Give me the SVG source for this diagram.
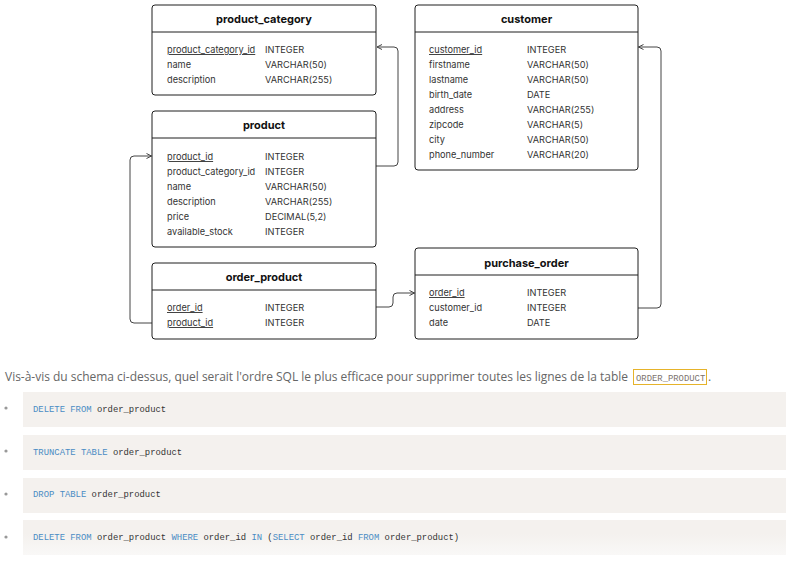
<svg xmlns="http://www.w3.org/2000/svg" width="790" height="567" viewBox="0 0 790 567">
<defs>
<style>
.box{fill:#fff;stroke:#1e1e1e;stroke-width:1}
.div{stroke:#1e1e1e;stroke-width:1}
.title{font-family:Inter,"Liberation Sans",sans-serif;font-size:11px;font-weight:bold;fill:#111;text-anchor:middle}
.row{font-family:Inter,"Liberation Sans",sans-serif;font-size:9.2px;fill:#333}
.pk{text-decoration:underline}
.conn{fill:none;stroke:#444;stroke-width:1}
.q{font-family:"Open Sans","Noto Sans",sans-serif;font-size:12px;fill:#666}
.code{font-family:"Liberation Mono","DejaVu Sans Mono",monospace;font-size:8.9px;fill:#333}
.kw{fill:#4a8cc4}
.item{fill:#f4f1ee}
.bul{fill:#999}
</style>
<marker id="arr" markerWidth="6" markerHeight="6" refX="5.5" refY="3" orient="auto" markerUnits="userSpaceOnUse">
<path d="M0.5,0.5 L5.5,3 L0.5,5.5" fill="none" stroke="#444" stroke-width="1"/>
</marker>
<linearGradient id="fade" x1="0" y1="0" x2="0" y2="1">
<stop offset="0" stop-color="#f4f1ee"/>
<stop offset="0.4" stop-color="#f4f1ee"/>
<stop offset="1" stop-color="#f9f8f7"/>
</linearGradient>
</defs>
<rect width="790" height="567" fill="#fff"/>

<g id="connectors">
<path class="conn" d="M376,166 H394 Q398,166 398,162 V51 Q398,47 394,47 H377" marker-end="url(#arr)"/>
<path class="conn" d="M152,323 H134 Q130,323 130,319 V160 Q130,156 134,156 H151.5" marker-end="url(#arr)"/>
<path class="conn" d="M376,307 H389 Q393,307 393,303 V297 Q393,293 397,293 H414.5" marker-end="url(#arr)"/>
<path class="conn" d="M638,308 H657 Q661,308 661,304 V51 Q661,47 657,47 H638.5" marker-end="url(#arr)"/>
</g>

<g id="product_category">
<rect class="box" x="152" y="5" width="224" height="90" rx="3"/>
<line class="div" x1="152" y1="32" x2="376" y2="32"/>
<text class="title" x="264" y="23">product_category</text>
<text class="row pk" x="167" y="53">product_category_id</text><text class="row" x="265" y="53">INTEGER</text>
<text class="row" x="167" y="68">name</text><text class="row" x="265" y="68">VARCHAR(50)</text>
<text class="row" x="167" y="83">description</text><text class="row" x="265" y="83">VARCHAR(255)</text>
</g>

<g id="customer">
<rect class="box" x="415" y="5" width="223" height="165" rx="3"/>
<line class="div" x1="415" y1="32" x2="638" y2="32"/>
<text class="title" x="526.5" y="23">customer</text>
<text class="row pk" x="429" y="53">customer_id</text><text class="row" x="527" y="53">INTEGER</text>
<text class="row" x="429" y="68">firstname</text><text class="row" x="527" y="68">VARCHAR(50)</text>
<text class="row" x="429" y="83">lastname</text><text class="row" x="527" y="83">VARCHAR(50)</text>
<text class="row" x="429" y="98">birth_date</text><text class="row" x="527" y="98">DATE</text>
<text class="row" x="429" y="113">address</text><text class="row" x="527" y="113">VARCHAR(255)</text>
<text class="row" x="429" y="128">zipcode</text><text class="row" x="527" y="128">VARCHAR(5)</text>
<text class="row" x="429" y="143">city</text><text class="row" x="527" y="143">VARCHAR(50)</text>
<text class="row" x="429" y="158">phone_number</text><text class="row" x="527" y="158">VARCHAR(20)</text>
</g>

<g id="product">
<rect class="box" x="152" y="111" width="224" height="136" rx="3"/>
<line class="div" x1="152" y1="138" x2="376" y2="138"/>
<text class="title" x="264" y="129">product</text>
<text class="row pk" x="167" y="160">product_id</text><text class="row" x="265" y="160">INTEGER</text>
<text class="row" x="167" y="175">product_category_id</text><text class="row" x="265" y="175">INTEGER</text>
<text class="row" x="167" y="190">name</text><text class="row" x="265" y="190">VARCHAR(50)</text>
<text class="row" x="167" y="205">description</text><text class="row" x="265" y="205">VARCHAR(255)</text>
<text class="row" x="167" y="220">price</text><text class="row" x="265" y="220">DECIMAL(5,2)</text>
<text class="row" x="167" y="235">available_stock</text><text class="row" x="265" y="235">INTEGER</text>
</g>

<g id="order_product">
<rect class="box" x="152" y="263" width="224" height="76" rx="3"/>
<line class="div" x1="152" y1="290" x2="376" y2="290"/>
<text class="title" x="264" y="281">order_product</text>
<text class="row pk" x="167" y="311">order_id</text><text class="row" x="265" y="311">INTEGER</text>
<text class="row pk" x="167" y="326">product_id</text><text class="row" x="265" y="326">INTEGER</text>
</g>

<g id="purchase_order">
<rect class="box" x="415" y="248" width="223" height="91" rx="3"/>
<line class="div" x1="415" y1="275" x2="638" y2="275"/>
<text class="title" x="526.5" y="267">purchase_order</text>
<text class="row pk" x="429" y="296">order_id</text><text class="row" x="527" y="296">INTEGER</text>
<text class="row" x="429" y="311">customer_id</text><text class="row" x="527" y="311">INTEGER</text>
<text class="row" x="429" y="326">date</text><text class="row" x="527" y="326">DATE</text>
</g>

<g id="question">
<text class="q" x="5" y="381" textLength="623" lengthAdjust="spacing">Vis-à-vis du schema ci-dessus, quel serait l'ordre SQL le plus efficace pour supprimer toutes les lignes de la table</text>
<rect x="633.5" y="369.5" width="73" height="15" fill="#fff" stroke="#e6b32a" stroke-width="1"/>
<text class="code" x="636" y="380.5" style="fill:#7d746e">ORDER_PRODUCT</text>
<text class="q" x="708" y="381">.</text>
</g>

<g id="answers">
<rect class="item" x="23" y="392" width="763" height="35"/>
<rect class="item" x="23" y="435" width="763" height="35"/>
<rect class="item" x="23" y="478" width="763" height="35"/>
<rect x="23" y="520" width="763" height="35" fill="url(#fade)"/>
<circle class="bul" cx="6" cy="408" r="1.6"/>
<circle class="bul" cx="6" cy="451" r="1.6"/>
<circle class="bul" cx="6" cy="494" r="1.6"/>
<circle class="bul" cx="6" cy="537" r="1.6"/>
<text class="code" x="33" y="412"><tspan class="kw">DELETE FROM</tspan> order_product</text>
<text class="code" x="33" y="455"><tspan class="kw">TRUNCATE TABLE</tspan> order_product</text>
<text class="code" x="33" y="497"><tspan class="kw">DROP TABLE</tspan> order_product</text>
<text class="code" x="33" y="540"><tspan class="kw">DELETE FROM</tspan> order_product <tspan class="kw">WHERE</tspan> order_id <tspan class="kw">IN</tspan> (<tspan class="kw">SELECT</tspan> order_id <tspan class="kw">FROM</tspan> order_product)</text>
</g>
</svg>
